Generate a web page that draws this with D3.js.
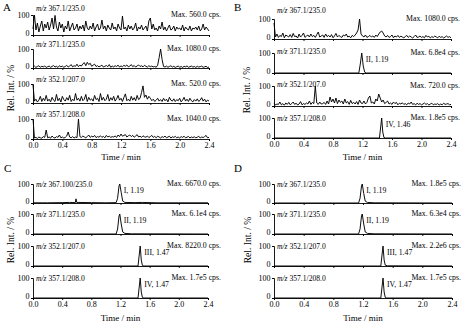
<!DOCTYPE html>
<html><head><meta charset="utf-8">
<script src="https://cdn.jsdelivr.net/npm/d3@7"></script>
<style>
html,body{margin:0;padding:0;background:#fff;}
svg{display:block;font-family:"Liberation Serif","Times New Roman",serif;}
</style></head>
<body><svg id="c" width="465" height="325"></svg>
<script>
// ---------------- DATA ----------------
const panelLetters = ["A", "B", "C", "D"];
const timeTicks = [0.0, 0.4, 0.8, 1.2, 1.6, 2.0, 2.4];
const yTicks = [0, 100];
const yLabel = "Rel. Int. / %";
const xLabel = "Time / min";

const transitionsA = ["367.1/235.0", "371.1/235.0", "352.1/207.0", "357.1/208.0"];
const transitionsB = ["367.1/235.0", "371.1/235.0", "352.1/207.0", "357.1/208.0"];
const transitionsC = ["367.100/235.0", "371.1/235.0", "352.1/207.0", "357.1/208.0"];
const transitionsD = ["367.1/235.0", "371.1/235.0", "352.1/207.0", "357.1/208.0"];

const maxA = ["Max. 560.0 cps.", "Max. 1080.0 cps.", "Max. 520.0 cps.", "Max. 1040.0 cps."];
const maxB = ["Max. 1080.0 cps.", "Max. 6.8e4 cps.", "Max. 720.0 cps.", "Max. 1.8e5 cps."];
const maxC = ["Max. 6670.0 cps.", "Max. 6.1e4 cps.", "Max. 8220.0 cps.", "Max. 1.7e5 cps."];
const maxD = ["Max. 1.8e5 cps.", "Max. 6.3e4 cps.", "Max. 2.2e6 cps.", "Max. 1.7e5 cps."];

// peak annotations: [label, retention time] (null = none)
const peaksA = [null, null, null, null];
const peaksB = [null, ["II, 1.19", 1.19], null, ["IV, 1.46", 1.46]];
const peaksC = [["I, 1.19", 1.19], ["II, 1.19", 1.19], ["III, 1.47", 1.47], ["IV, 1.47", 1.47]];
const peaksD = [["I, 1.19", 1.19], ["II, 1.19", 1.19], ["III, 1.47", 1.47], ["IV, 1.47", 1.47]];

// noisy traces sampled every 0.02 min from 0.0 to 2.4 (relative intensity %)
const noiseA1 = [30,100,25,60,15,45,70,20,55,35,65, 25,50,85,30,98,40,20,65,35,55,15, 45,30,70,20,40,60,25,35,55,20,45,
 30,50,20,70,35,25,45,30,60,20,40, 55,25,35,75,30,45,20,50,35,25,60, 30,40,20,55,35,25,95,30,40,20,50,
 30,45,25,35,60,20,40,30,50,25,35, 45,20,70,85,30,55,25,35,20,45,30, 65,25,40,20,35,50,25,30,45,20,40,
 30,35,25,50,20,40,30,25,45,20,35, 30,40,25,45,20,30,55,25,40,30,20];
const noiseA2 = [5,10,3,8,12,4,9,6,11,3,7, 10,4,8,13,5,9,3,12,6,10,4, 8,14,5,10,18,6,12,9,20,7,15,
 10,22,28,12,30,18,25,9,15,20,8, 12,6,10,15,5,9,13,7,18,4,10, 6,12,8,15,5,11,7,14,9,16,6,
 10,18,7,13,5,11,16,8,12,6,14, 9,5,12,7,10,6,8,4,15,55,100, 45,8,5,10,4,8,12,5,9,3,7,
 10,4,8,3,9,6,11,4,7,10,5, 8,3,9,5,7,10,4,6,9,3,5];
const noiseA3 = [95,10,20,5,15,35,8,25,12,40,10, 20,6,30,15,8,45,12,25,5,35,18, 10,28,15,40,8,20,12,50,15,25,10,
 35,12,20,45,8,30,15,22,10,40,18, 25,8,50,15,30,12,20,45,10,28,15, 35,10,22,40,15,25,8,30,48,12,20,
 10,35,15,28,12,40,18,25,55,90,30, 42,20,35,25,12,20,8,15,25,10,18, 8,25,12,20,6,30,15,10,22,8,18,
 12,25,6,15,30,10,20,8,25,12,6, 18,10,22,8,15,28,10,20,6,15,10];
const noiseA4 = [100,5,8,3,10,6,4,12,8,45,6, 10,4,15,7,5,12,8,20,6,10,5, 8,15,35,10,6,12,5,10,7,100,12,
 8,15,10,6,12,20,8,14,10,18,7, 12,9,16,8,13,6,18,10,14,8,12, 10,15,8,20,12,25,14,18,22,10,16,
 20,12,18,9,15,22,10,14,8,16,11, 9,15,7,12,18,8,13,6,14,10,5, 12,8,15,6,10,14,5,11,8,13,6,
 10,5,12,8,14,6,9,13,5,10,7, 11,6,9,14,5,10,7,12,18,6,8];
const noiseB1 = [80,10,25,8,18,12,30,6,20,15,10, 22,8,28,12,15,5,25,10,18,30,8, 15,20,10,25,12,18,8,22,35,10,15,
 20,8,25,12,18,10,22,6,15,28,10, 18,12,8,20,15,25,10,14,6,18,12, 20,30,45,100,25,15,10,20,8,12,18,
 10,15,8,20,12,25,35,40,30,15,10, 18,8,12,20,6,15,10,18,8,14,10, 6,12,18,8,15,10,5,12,20,8,10,
 15,8,12,6,18,10,14,5,12,8,15, 10,6,14,8,12,5,10,15,8,12,6];
const noiseB3 = [15,5,10,8,20,6,12,4,15,8,18, 6,12,20,8,14,5,10,22,6,12,8, 15,10,25,8,18,12,100,15,8,20,10,
 12,18,8,25,10,45,20,35,15,40,12, 30,18,25,10,35,15,22,8,28,12,18, 10,22,8,30,15,12,25,10,18,40,50,
 15,20,10,35,25,60,40,20,30,12,18, 25,10,15,8,20,12,18,6,14,10,16, 8,12,6,15,10,20,8,12,5,14,8,
 12,6,10,15,8,12,5,10,14,6,10, 8,12,5,10,6,14,8,10,12,6,8];

// peak traces as [time, relative intensity] points
const peakB2 = [[0,0],[1.15,0],[1.17,45],[1.19,100],[1.21,35],[1.23,4],[1.25,0],[2.4,0]];
const peakB4 = [[0,0],[1.43,0],[1.445,50],[1.46,100],[1.475,30],[1.49,3],[1.51,0],[2.4,0]];
const peakC1 = [[0,1],[0.2,1],[0.4,2],[0.5,3],[0.58,2],[0.59,22],[0.60,3],[0.8,2],[1.0,1],[1.14,2],[1.16,25],[1.18,90],[1.19,100],[1.21,55],[1.23,10],[1.26,3],[1.4,2],[1.5,3],[1.7,1],[2.0,1],[2.4,1]];
const peakC2 = [[0,0],[1.14,0],[1.16,25],[1.18,90],[1.19,100],[1.21,50],[1.23,10],[1.26,3],[1.35,1],[2.4,0]];
const peakC3 = [[0,0],[1.44,0],[1.455,50],[1.47,100],[1.485,30],[1.50,3],[1.52,0],[2.4,0]];
const peakC4 = [[0,0],[1.44,0],[1.455,50],[1.47,100],[1.485,30],[1.50,3],[1.52,0],[2.4,0]];
const peakD1 = [[0,0],[1.14,0],[1.16,25],[1.18,90],[1.19,100],[1.21,50],[1.23,10],[1.26,3],[1.35,1],[2.4,0]];
const peakD2 = [[0,0],[1.14,0],[1.16,25],[1.18,90],[1.19,100],[1.21,50],[1.23,10],[1.26,3],[1.35,1],[2.4,0]];
const peakD3 = [[0,0],[1.44,0],[1.455,50],[1.47,100],[1.485,30],[1.50,4],[1.53,1],[2.4,0]];
const peakD4 = [[0,0],[1.44,0],[1.455,50],[1.47,100],[1.485,30],[1.50,3],[1.52,0],[2.4,0]];

// ---------------- BUILD ----------------
const toPairs = arr => arr.map((v, i) => [2.4 * i / (arr.length - 1), v]);
const panelData = [
  { traces: [toPairs(noiseA1), toPairs(noiseA2), toPairs(noiseA3), toPairs(noiseA4)], trans: transitionsA, max: maxA, peaks: peaksA },
  { traces: [toPairs(noiseB1), peakB2, toPairs(noiseB3), peakB4], trans: transitionsB, max: maxB, peaks: peaksB },
  { traces: [peakC1, peakC2, peakC3, peakC4], trans: transitionsC, max: maxC, peaks: peaksC },
  { traces: [peakD1, peakD2, peakD3, peakD4], trans: transitionsD, max: maxD, peaks: peaksD }
];
// layout (pixels)
const layout = [
  { x0: 33, x1: 209, tops: [15, 49, 84, 119], bases: [35, 68, 103, 139], letter: [3, 11], ylab: [10, 88], xlabY: 160, mzDy: [-4, -2, -2, -2] },
  { x0: 274, x1: 451, tops: [19, 53, 86, 118], bases: [39, 73, 106, 138], letter: [234, 11], ylab: [246, 90], xlabY: 160, mzDy: [-6, 1, 1, 3] },
  { x0: 33, x1: 208, tops: [184, 214, 246, 278], bases: [203, 234, 266, 298], letter: [4, 172], ylab: [10, 240], xlabY: 321, mzDy: [3, 3, 3, 3] },
  { x0: 274, x1: 452, tops: [184, 214, 246, 278], bases: [203, 234, 266, 298], letter: [234, 172], ylab: [247, 240], xlabY: 321, mzDy: [3, 3, 3, 3] }
];
const maxRight = [221, 460, 221, 461];

const svg = d3.select("#c");
const FS_TICK = 8, FS_MZ = 7.6, FS_MAX = 7.8, FS_PK = 7.8;

panelData.forEach((pd, p) => {
  const L = layout[p];
  const g = svg.append("g");
  const x = d3.scaleLinear().domain([0, 2.4]).range([L.x0, L.x1]);

  g.append("text").attr("x", L.letter[0]).attr("y", L.letter[1])
    .attr("font-size", 11).text(panelLetters[p]);

  pd.traces.forEach((tr, k) => {
    const y = d3.scaleLinear().domain([0, 100]).range([L.bases[k], L.tops[k]]);
    const last = k === 3;
    const xa = d3.axisBottom(x).tickValues(timeTicks).tickSize(2).tickPadding(2.5)
      .tickFormat(last ? d3.format(".1f") : () => "");
    const gx = g.append("g").attr("transform", `translate(0,${L.bases[k]})`).call(xa);
    gx.select(".domain").attr("stroke-width", 0.9);
    gx.selectAll("line").attr("stroke-width", 0.9);
    gx.selectAll("text").attr("font-size", FS_TICK).attr("font-family", "Liberation Serif")
      .attr("dy", "0.62em");
    const ya = d3.axisLeft(y).tickValues(yTicks).tickSize(2).tickPadding(1.5).tickFormat(d3.format("d"));
    const gy = g.append("g").attr("transform", `translate(${L.x0},0)`).call(ya);
    gy.select(".domain").attr("stroke-width", 0.9);
    gy.selectAll("line").attr("stroke-width", 0.9);
    gy.selectAll("text").attr("font-size", FS_TICK).attr("font-family", "Liberation Serif")
      .attr("dy", d => d === 0 ? "0.12em" : "0.32em");
    const line = d3.line().x(d => x(d[0])).y(d => y(d[1]));
    g.append("path").datum(tr).attr("d", line).attr("fill", "none")
      .attr("stroke", "#000").attr("stroke-width", 0.95).attr("stroke-linejoin", "miter");
    const t = g.append("text").attr("x", L.x0 + 3).attr("y", L.tops[k] + L.mzDy[k]).attr("font-size", FS_MZ);
    t.append("tspan").attr("font-style", "italic").text("m/z");
    t.append("tspan").text(" " + pd.trans[k]);
    g.append("text").attr("x", maxRight[p]).attr("y", L.tops[k] + 2).attr("font-size", FS_MAX)
      .attr("text-anchor", "end").text(pd.max[k]);
    const pk = pd.peaks[k];
    if (pk) {
      g.append("text").attr("x", x(pk[1]) + 4).attr("y", L.tops[k] + 9).attr("font-size", FS_PK).text(pk[0]);
    }
  });

  g.append("text").attr("x", (L.x0 + L.x1) / 2).attr("y", L.xlabY)
    .attr("text-anchor", "middle").attr("font-size", 9).text(xLabel);
  g.append("text").attr("transform", `translate(${L.ylab[0]},${L.ylab[1]}) rotate(-90)`)
    .attr("text-anchor", "middle").attr("dominant-baseline", "central")
    .attr("font-size", 9.6).text(yLabel);
});
</script></body></html>
